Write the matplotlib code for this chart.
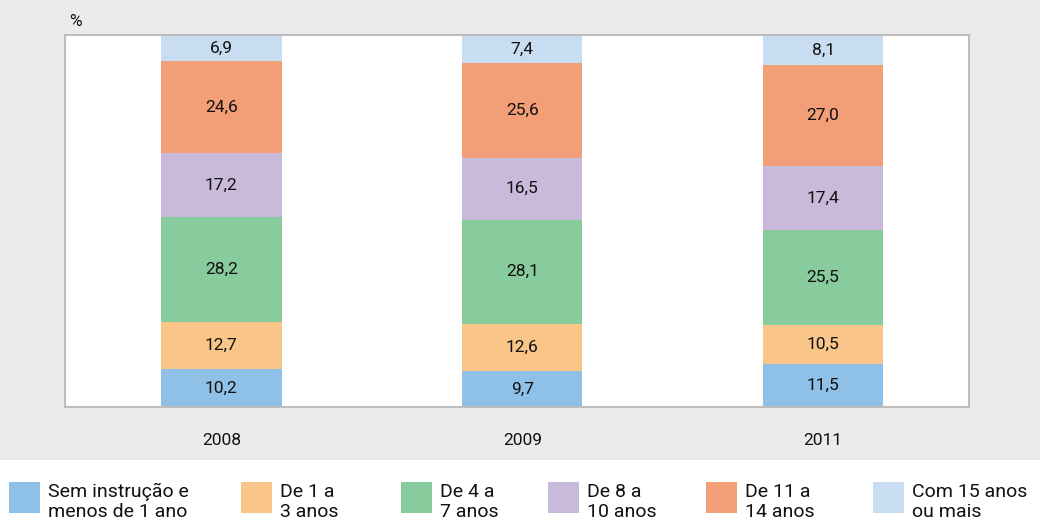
import matplotlib
matplotlib.use("Agg")
import matplotlib.pyplot as plt
from matplotlib.patches import Rectangle
import numpy as np

plt.rcParams['font.family'] = ['Roboto', 'DejaVu Sans']

years = ["2008", "2009", "2011"]
categories = ["Sem instrução e\nmenos de 1 ano", "De 1 a\n3 anos", "De 4 a\n7 anos",
              "De 8 a\n10 anos", "De 11 a\n14 anos", "Com 15 anos\nou mais"]
sem_instrucao = [10.2, 9.7, 11.5]
de_1_a_3 = [12.7, 12.6, 10.5]
de_4_a_7 = [28.2, 28.1, 25.5]
de_8_a_10 = [17.2, 16.5, 17.4]
de_11_a_14 = [24.6, 25.6, 27.0]
com_15 = [6.9, 7.4, 8.1]
series = [sem_instrucao, de_1_a_3, de_4_a_7, de_8_a_10, de_11_a_14, com_15]
colors = ["#8fc0e7", "#f9c588", "#88cb9d", "#c9bad9", "#f29f77", "#c9ddf2"]

W, H = 1040, 522
fig = plt.figure(figsize=(W/100, H/100), dpi=100)
fig.patch.set_facecolor("white")
fig.patches.append(Rectangle((0, 1-460/H), 1, 460/H, transform=fig.transFigure,
                             facecolor="#ebebeb", edgecolor="none", zorder=-10))

ax = fig.add_axes([65/W, 1-407/H, (969-65)/W, (407-35)/H])
ax.set_facecolor("white")
x = np.arange(len(years))
bottom = np.zeros(len(years))
for vals, c in zip(series, colors):
    vals = np.array(vals)
    ax.bar(x, vals, bottom=bottom, width=0.40, color=c, edgecolor="none")
    for xi, b, v in zip(x, bottom, vals):
        ax.text(xi, b + v/2, f"{v:.1f}".replace(".", ","), ha="center", va="center",
                fontsize=12.5, color="#111111")
    bottom += vals

ax.set_xlim(-0.52, 2.485)
ax.set_ylim(0, 100)
ax.set_yticks([])
ax.set_xticks(x)
ax.set_xticklabels(years, fontsize=12.5, color="#111111")
ax.tick_params(axis="x", length=0, pad=19)
for s in ax.spines.values():
    s.set_color("#bdbdbd")
    s.set_linewidth(1.5)

fig.text(69/W, 1-21/H, "%", fontsize=12.5, ha="left", va="center", color="#111111")

leg_x = [9, 241, 401, 548, 706, 873]
for lx, lab, c in zip(leg_x, categories, colors):
    fig.patches.append(Rectangle((lx/W, 1-513/H), 31/W, 31/H, transform=fig.transFigure,
                                 facecolor=c, edgecolor="none"))
    fig.text((lx+39)/W, 1-502/H, lab, fontsize=14, ha="left", va="center",
             linespacing=1.15, color="#111111")

fig.savefig("out.png", dpi=100, facecolor=fig.get_facecolor())
